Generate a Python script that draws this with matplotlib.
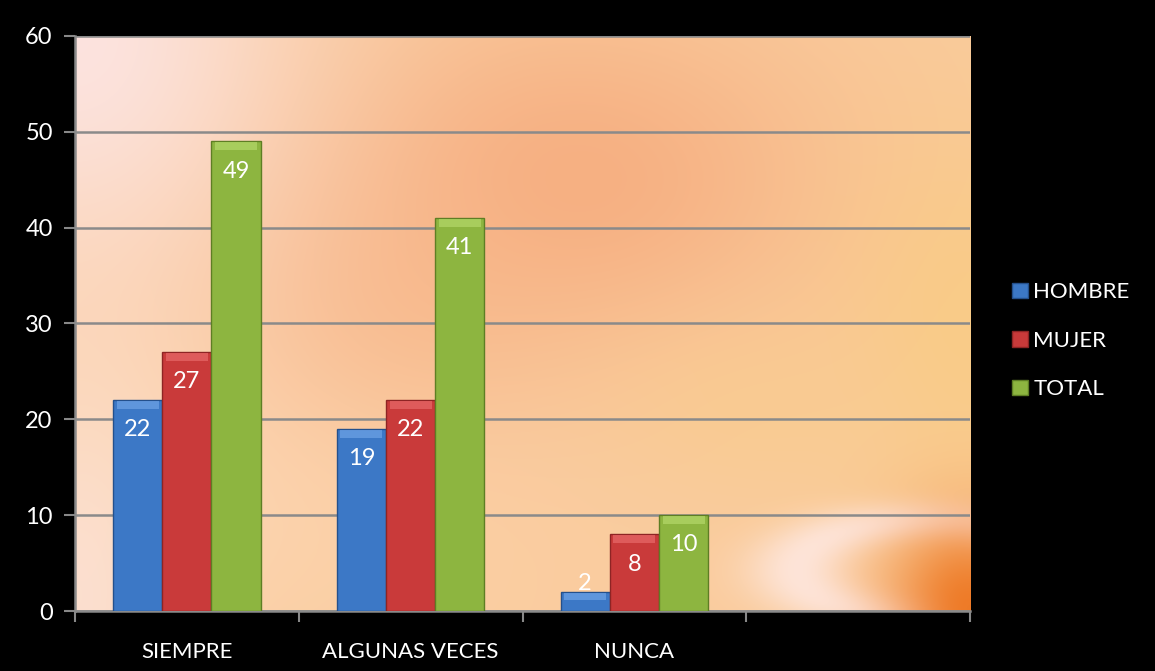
import matplotlib
matplotlib.use("Agg")
import matplotlib.pyplot as plt
from matplotlib.patches import Patch
import numpy as np

plt.rcParams['font.family'] = ['Lato', 'DejaVu Sans']

categories = ["SIEMPRE", "ALGUNAS VECES", "NUNCA", ""]
series_names = ["HOMBRE", "MUJER", "TOTAL"]
hombre = [22, 19, 2]
mujer = [27, 22, 8]
total = [49, 41, 10]
yticks = [0, 10, 20, 30, 40, 50, 60]

colors = ["#3C78C6", "#C93A3A", "#8DB540"]
tops = ["#6FA3E6", "#E86A6A", "#B4D86A"]
edges = ["#24508C", "#8E2424", "#5E7E24"]


def background():
    # soft orange "office theme" backdrop
    h, w = 300, 450
    yy, xx = np.mgrid[0:1:h * 1j, 0:1:w * 1j]
    img = np.ones((h, w, 3)) * np.array([0.98, 0.80, 0.62])

    def blend(a, col):
        nonlocal img
        a = np.clip(a, 0, 1)[..., None]
        img = img * (1 - a) + np.array(col) * a

    def blob(cx, cy, sx, sy):
        return np.exp(-(((xx - cx) / sx) ** 2 + ((yy - cy) / sy) ** 2))

    blend(0.75 * blob(0.15, 0.75, 0.3, 0.35), (0.99, 0.84, 0.70))
    blend(0.7 * blob(0.55, 0.25, 0.3, 0.3), (0.96, 0.64, 0.46))
    blend(0.5 * blob(0.35, 0.45, 0.2, 0.25), (0.97, 0.70, 0.52))
    blend(0.6 * blob(1.0, 0.5, 0.15, 0.35), (0.98, 0.80, 0.48))
    blend(0.55 * blob(0.75, 0.65, 0.15, 0.15), (0.98, 0.80, 0.55))
    blend(0.9 * blob(0.0, 0.0, 0.25, 0.45), (0.99, 0.90, 0.90))
    blend(0.7 * blob(0.0, 1.0, 0.12, 0.4), (0.99, 0.90, 0.88))
    r = np.sqrt(((xx - 0.95) / 1.0) ** 2 + ((yy - 0.93) / 0.6) ** 2)
    blend(0.75 * np.exp(-((r - 0.14) / 0.06) ** 2), (1.0, 0.93, 0.93))
    blend(0.95 * blob(1.0, 1.0, 0.09, 0.16), (0.93, 0.46, 0.12))
    return img


fig = plt.figure(figsize=(11.55, 6.71), dpi=100, facecolor="black")
ax = fig.add_axes([0.0649, 0.0894, 0.775, 0.857])
ax.set_facecolor("black")
ax.imshow(background(), extent=(0, 1, 0, 1), transform=ax.transAxes,
          aspect="auto", interpolation="bicubic", zorder=0)

x = np.arange(len(hombre))
width = 0.22
for i, vals in enumerate([hombre, mujer, total]):
    pos = x + (i - 1) * width
    ax.bar(pos, vals, width, color=colors[i], edgecolor=edges[i], linewidth=1, zorder=3)
    # light bevel on top
    ax.bar(pos, [0.8] * len(vals), width * 0.85, bottom=np.array(vals) - 0.9,
           color=tops[i], linewidth=0, zorder=4, alpha=0.7)
    for p, v in zip(pos, vals):
        ly = v - 3.1 if v > 5 else v + 0.9
        ax.text(p, ly, str(v), color="white", ha="center", va="center",
                fontsize=17, zorder=5)

ax.set_xlim(-0.5, len(categories) - 0.5)
ax.set_ylim(0, 60)
ax.set_yticks(yticks)
ax.set_yticklabels([str(t) for t in yticks], color="white", fontsize=17)
ax.set_xticks(np.arange(len(categories) + 1) - 0.5)
ax.set_xticklabels([])
ax.set_xticks(np.arange(len(categories)), minor=True)
ax.set_xticklabels(categories, minor=True, color="white", fontsize=16)
ax.tick_params(axis="x", which="minor", length=0, pad=22)
ax.tick_params(axis="x", which="major", length=8, color="#888888", width=1.5)
ax.tick_params(axis="y", length=8, color="#888888", width=1.5, pad=8)

ax.set_axisbelow(True)
ax.yaxis.grid(True, color="#8A8A8A", linewidth=1.8)
for s in ["top", "right"]:
    ax.spines[s].set_visible(False)
for s in ["left", "bottom"]:
    ax.spines[s].set_color("#8A8A8A")
    ax.spines[s].set_linewidth(1.8)

handles = [Patch(facecolor=colors[i], edgecolor=edges[i]) for i in range(3)]
leg = fig.legend(handles, series_names, loc="center left", bbox_to_anchor=(0.859, 0.492),
                 frameon=False, fontsize=16, labelcolor="white",
                 handlelength=0.7, handleheight=0.7, handletextpad=0.25,
                 labelspacing=1.28)

fig.savefig("out.png", dpi=100, facecolor="black")
